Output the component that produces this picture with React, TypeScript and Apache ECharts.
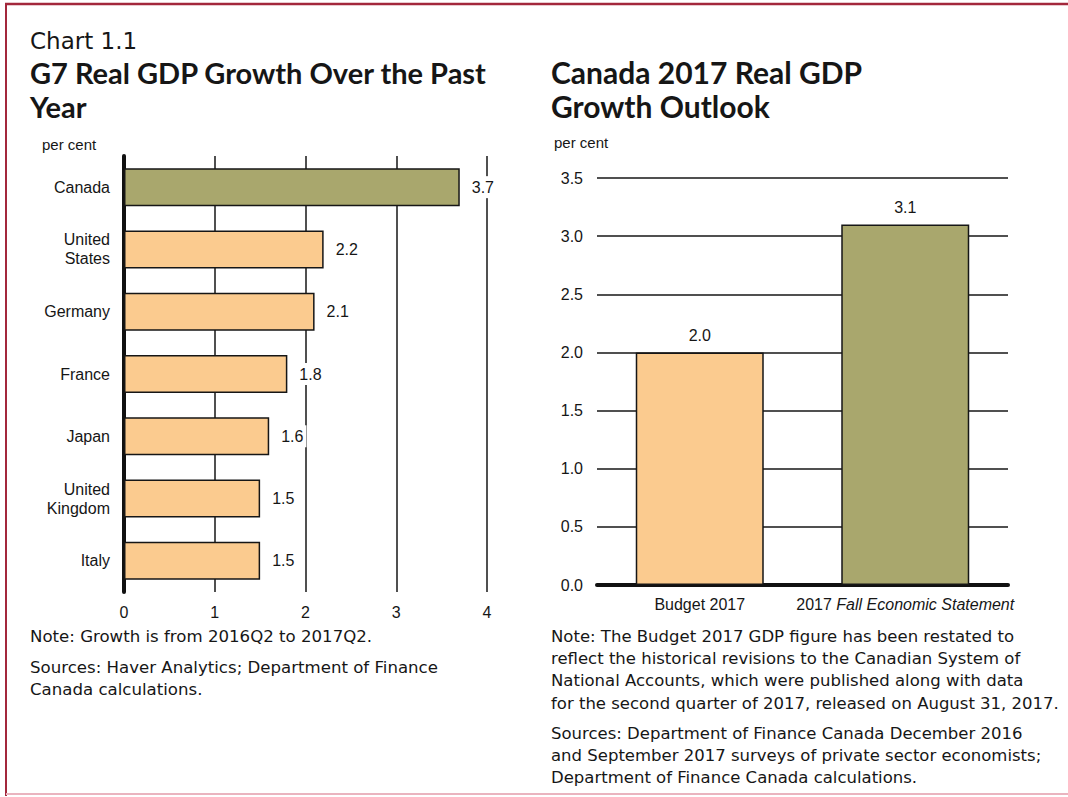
import React, { useEffect, useRef } from "react";
import * as echarts from "echarts";

const countries = ["Canada", "United\nStates", "Germany", "France", "Japan", "United\nKingdom", "Italy"];
const g7Growth = [3.7, 2.2, 2.1, 1.8, 1.6, 1.5, 1.5];
const outlookCategories = ["Budget 2017", "2017 {i|Fall Economic Statement}"];
const outlookValues = [2.0, 3.1];

const leftNotes = [
  "Note: Growth is from 2016Q2 to 2017Q2.",
  "Sources: Haver Analytics; Department of Finance",
  "Canada calculations.",
];
const rightNotes = [
  "Note: The Budget 2017 GDP figure has been restated to",
  "reflect the historical revisions to the Canadian System of",
  "National Accounts, which were published along with data",
  "for the second quarter of 2017, released on August 31, 2017.",
  "Sources: Department of Finance Canada December 2016",
  "and September 2017 surveys of private sector economists;",
  "Department of Finance Canada calculations.",
];

const OLIVE = "#a9a76d";
const PEACH = "#fbcb8f";
const INK = "#161616";
const AX = "Liberation Sans, Arial, sans-serif";
const TXT = "Lato, 'Noto Sans', sans-serif";
const NOTE = "'DejaVu Sans', sans-serif";

export default function App() {
  const ref = useRef<HTMLDivElement>(null);
  useEffect(() => {
    document.body.style.margin = "0";
    const chart = echarts.init(ref.current!, null, { renderer: "svg" });
    const noteY = [636, 667, 689];
    const rNoteY = [636, 658, 680, 703, 733, 755, 777];
    const text = (t: string, x: number, y: number, font: string, extra: any = {}) => ({
      type: "text",
      x,
      y,
      silent: true,
      style: { text: t, font, fill: INK, verticalAlign: "middle", ...extra },
    });
    const graphics: any[] = [
      { type: "line", shape: { x1: 6, y1: 4, x2: 6, y2: 796 }, style: { stroke: "#a3283c", lineWidth: 2 } },
      { type: "line", shape: { x1: 5, y1: 4, x2: 1068, y2: 4 }, style: { stroke: "#a3283c", lineWidth: 2.5 } },
      { type: "line", shape: { x1: 6, y1: 794, x2: 1068, y2: 794 }, style: { stroke: "#eab4bf", lineWidth: 2 } },
      text("Chart 1.1", 30, 41, `400 23px ${NOTE}`),
      text("G7 Real GDP Growth Over the Past", 30, 72, `700 29px ${TXT}`),
      text("Year", 30, 106, `700 29px ${TXT}`),
      text("Canada 2017 Real GDP", 551, 72, `700 30px ${TXT}`),
      text("Growth Outlook", 551, 106, `700 30px ${TXT}`),
      text("per cent", 42, 144, `400 15px ${AX}`),
      text("per cent", 554, 142, `400 15px ${AX}`),
      ...leftNotes.map((t, i) => text(t, 30, noteY[i], `400 16.6px ${NOTE}`)),
      ...rightNotes.map((t, i) => text(t, 551, rNoteY[i], `400 16.5px ${NOTE}`)),
    ];
    chart.setOption({
      animation: false,
      backgroundColor: "#ffffff",
      grid: [
        { left: 124, top: 156, width: 363, height: 436 },
        { left: 597, top: 178, width: 411, height: 407 },
      ],
      xAxis: [
        {
          gridIndex: 0,
          type: "value",
          min: 0,
          max: 4,
          interval: 1,
          axisLine: { show: false },
          axisTick: { show: false },
          splitLine: { show: true, lineStyle: { color: INK, width: 1.5 } },
          axisLabel: { fontSize: 16, fontFamily: AX, color: INK, margin: 12 },
        },
        {
          gridIndex: 1,
          type: "category",
          data: outlookCategories,
          axisLine: { show: true, lineStyle: { color: "#111", width: 4 } },
          axisTick: { show: false },
          axisLabel: {
            interval: 0,
            fontSize: 16,
            fontFamily: AX,
            color: INK,
            margin: 11,
            rich: { i: { fontStyle: "italic", fontSize: 16, fontFamily: AX, color: INK } },
          },
        },
      ],
      yAxis: [
        {
          gridIndex: 0,
          type: "category",
          inverse: true,
          data: countries,
          axisLine: { show: true, lineStyle: { color: "#111", width: 4 } },
          axisTick: { show: false },
          axisLabel: { interval: 0, fontSize: 16, fontFamily: AX, color: INK, margin: 14, lineHeight: 19, align: "right" },
        },
        {
          gridIndex: 1,
          type: "value",
          min: 0,
          max: 3.5,
          interval: 0.5,
          axisLine: { show: false },
          axisTick: { show: false },
          splitLine: { show: true, lineStyle: { color: INK, width: 1.5 } },
          axisLabel: {
            fontSize: 16,
            fontFamily: AX,
            color: INK,
            margin: 14,
            formatter: (v: number) => v.toFixed(1),
          },
        },
      ],
      series: [
        {
          type: "bar",
          xAxisIndex: 0,
          yAxisIndex: 0,
          barWidth: 38,
          data: g7Growth.map((v, i) => ({ value: v, itemStyle: { color: i === 0 ? OLIVE : PEACH } })),
          itemStyle: { borderColor: INK, borderWidth: 1.5 },
          label: {
            show: true,
            position: "right",
            distance: 9,
            fontSize: 16,
            fontFamily: AX,
            color: INK,
            backgroundColor: "#ffffff",
            padding: [3, 3],
            formatter: (p: any) => p.value.toFixed(1),
          },
        },
        {
          type: "bar",
          xAxisIndex: 1,
          yAxisIndex: 1,
          barWidth: 128,
          data: outlookValues.map((v, i) => ({ value: v, itemStyle: { color: i === 0 ? PEACH : OLIVE } })),
          itemStyle: { borderColor: INK, borderWidth: 1.5 },
          label: {
            show: true,
            position: "top",
            distance: 9,
            fontSize: 16,
            fontFamily: AX,
            color: INK,
            formatter: (p: any) => p.value.toFixed(1),
          },
        },
      ],
      graphic: graphics,
    });
    return () => chart.dispose();
  }, []);
  return <div ref={ref} style={{ width: 1068, height: 797 }} />;
}
